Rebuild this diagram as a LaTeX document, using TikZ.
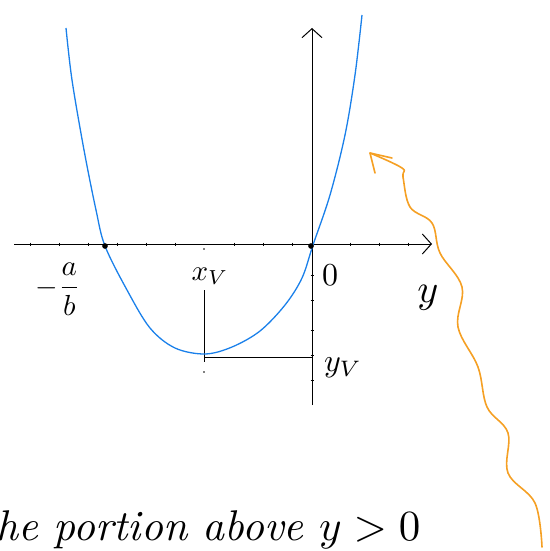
\documentclass[tikz,border=0pt]{standalone}
\usetikzlibrary{arrows.meta}
\definecolor{curveblue}{HTML}{1A80EA}
\definecolor{wavyorange}{HTML}{F5A024}
\tikzset{
  axisline/.style={line width=1pt, -{Straight Barb[length=9pt,width=20pt]}},
  guideline/.style={line width=0.5pt},
  lbl/.style={inner sep=0pt},
}
\begin{document}
\begin{tikzpicture}[x=1pt,y=-1pt]
\useasboundingbox (0,0) rectangle (549,551);
% axes
\coordinate (hx0) at (14,244);
\coordinate (hx1) at (432,244);
\coordinate (vy0) at (312,405);
\coordinate (vy1) at (312,28);
\draw[axisline] (hx0) -- (hx1);
\draw[axisline] (vy0) -- (vy1);
\foreach \t in {30,59,88,117,146,175,234,263,292,350,379,408}
  \draw[line width=0.4pt] (\t,242.5) -- (\t,245.5);
\foreach \t in {275,300,330,355,380}
  \draw[line width=0.4pt] (310.5,\t) -- (313.5,\t);
% guides to vertex
\coordinate (xvtop) at (204,290);
\coordinate (xvbot) at (204,362);
\coordinate (yvr) at (312,357);
\coordinate (yvl) at (204,357);
\draw[guideline] (xvtop) -- (xvbot);
\draw[guideline] (yvl) -- (yvr);
\fill (204,249) circle (0.8);
\fill (204,372) circle (0.8);
% parabola
\draw[curveblue, line width=1.3pt] plot[smooth, tension=0.55] coordinates {
 (66,28) (72,80) (84,150) (96,210) (105,246) (127,290)
 (150,328) (175,348) (205,354) (232,347) (260,331)
 (285,305) (302,278) (313,245) (330,195) (345,135)
 (355,75) (362,15)};
% roots
\node[circle, fill, inner sep=2pt] (r1) at (105,246) {};
\node[circle, fill, inner sep=2pt] (r2) at (311,246) {};
% labels
\node[lbl] (ab) at (58,289) {\scalebox{2.9}{$-\displaystyle\frac{a}{b}$}};
\node[lbl] (xv) at (210,276) {\scalebox{2.9}{$x_{V}$}};
\node[lbl] (zero) at (330,275) {\scalebox{3.2}{$0$}};
\node[lbl] (ylab) at (428,298) {\scalebox{4}{$y$}};
\node[lbl] (yv) at (343,368) {\scalebox{3.2}{$y_{V}$}};
% bottom text
\node[anchor=base west, inner sep=0pt] (txt) at (-18,540)
  {\scalebox{4.3}{\itshape the portion above $y>0$}};
% wavy arrow
\coordinate (tip) at (370,153);
\draw[wavyorange, line width=1.6pt, line cap=round, line join=round]
  (375,173) -- (tip) -- (392,158);
\draw[wavyorange, line width=1.6pt, line cap=round] plot[smooth, tension=0.6] coordinates {
 (tip) (402,168) (403,177) (410,207) (432,223) (440,253) (462,287) (458,327)
 (478,367) (487,407) (508,433) (508,473) (535,503) (542,547)};
\end{tikzpicture}
\end{document}
